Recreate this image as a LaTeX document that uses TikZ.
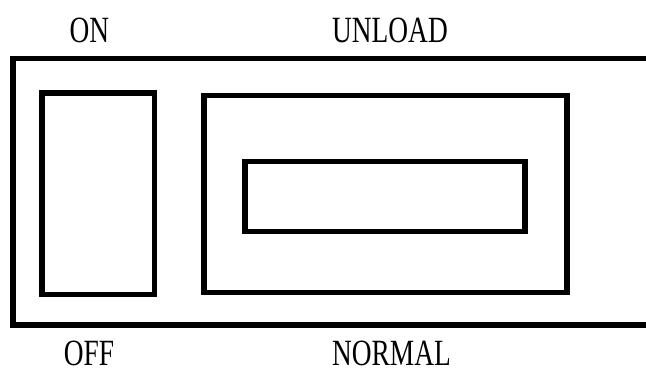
\documentclass[tikz,border=0pt]{standalone}
\usepackage{fontspec}
\setmainfont{Liberation Serif}
\begin{document}
\begin{tikzpicture}[x=1pt,y=-1pt,
  frame/.style={draw=black,line width=5.5pt},
  lbl/.style={inner sep=0pt,xscale=0.74,font=\fontsize{37}{37}\selectfont,anchor=base}]
\useasboundingbox (0,0) rectangle (646,369);
\draw[frame,line join=miter] (646,58.5) -- (13,58.5) -- (13,325) -- (646,325);
\node[frame,minimum width=112.5pt,minimum height=201.5pt,inner sep=0pt,rectangle] (sw) at (98.25,193.75) {};
\node[frame,minimum width=363pt,minimum height=197pt,inner sep=0pt,rectangle] (mid) at (385.5,194) {};
\node[frame,minimum width=280pt,minimum height=70pt,inner sep=0pt,rectangle] (inner) at (385.2,196.5) {};
\node[lbl] (on) at (89.5,43) {ON};
\node[lbl] (unload) at (390,43) {UNLOAD};
\node[lbl] (off) at (89,365.5) {OFF};
\node[lbl] (normal) at (391.5,365.5) {NORMAL};
\end{tikzpicture}
\end{document}
